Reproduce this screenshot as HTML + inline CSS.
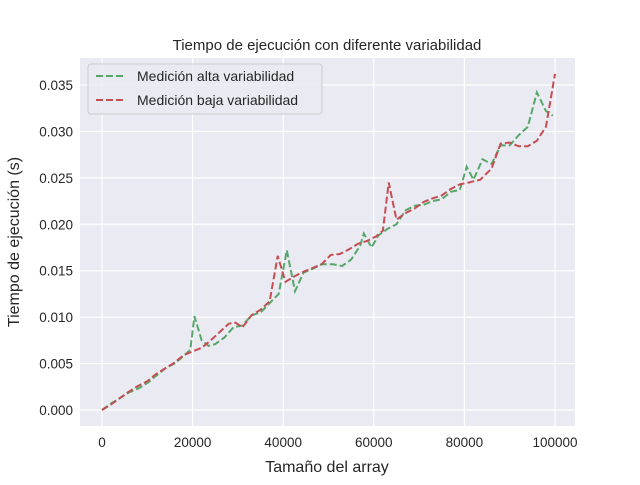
<!DOCTYPE html>
<html><head><meta charset="utf-8"><style>
body{margin:0;background:#fff;font-family:"Liberation Sans","DejaVu Sans",sans-serif;}
svg text{font-family:"Liberation Sans","DejaVu Sans",sans-serif;fill:#262626;}
</style></head><body>
<svg id="chart" width="640" height="480">
<rect x="80" y="58" width="495" height="368" fill="#eaeaf2"/>
<g id="grid"></g><g id="series"></g><g id="ticks"></g>
<text x="327" y="50" text-anchor="middle" font-size="15">Tiempo de ejecución con diferente variabilidad</text>
<text x="327" y="472" text-anchor="middle" font-size="16">Tamaño del array</text>
<text transform="translate(19,242) rotate(-90)" text-anchor="middle" font-size="16">Tiempo de ejecución (s)</text>
<g>
<rect x="88" y="64" width="234" height="50" rx="3" fill="#eaeaf2" fill-opacity="0.8" stroke="#ccc"/>
<g><line x1="96" y1="76" x2="124" y2="76" stroke="#55a868" stroke-width="2" stroke-dasharray="7,3"/><text x="137" y="81" font-size="14">Medición alta variabilidad</text></g>
<g><line x1="96" y1="100" x2="124" y2="100" stroke="#c44e52" stroke-width="2" stroke-dasharray="7,3"/><text x="137" y="105" font-size="14">Medición baja variabilidad</text></g>
</g>
</svg>
<script>
const xTicks=[0,20000,40000,60000,80000,100000];
const yTicks=[0,0.005,0.010,0.015,0.020,0.025,0.030,0.035];
const yTickLabels=["0.000","0.005","0.010","0.015","0.020","0.025","0.030","0.035"];
const altaX=[0,2000,4000,6000,8000,10000,12000,14000,16000,18000,19500,20400,22000,23500,25000,27000,29000,31000,33000,35000,37000,39000,40800,42600,44500,46500,48500,51000,53000,55000,57000,57800,59500,61000,63000,65000,67000,69000,71000,73000,75000,77000,79000,80500,82000,84000,86000,88000,90000,92000,94000,96000,98000,99500];
const altaY=[0,.0007,.0013,.0019,.0023,.0029,.0037,.0045,.005,.0058,.0065,.0101,.0075,.0069,.0071,.0078,.0089,.0091,.0102,.0105,.0115,.0125,.0172,.0128,.0148,.0152,.0157,.0157,.0155,.0162,.0177,.019,.0175,.0188,.0195,.02,.0215,.022,.0221,.0225,.0227,.0235,.0237,.0262,.0248,.027,.0265,.0285,.0285,.0296,.0305,.0342,.0322,.0317];
const bajaX=[0,2000,4000,6000,8000,10000,12000,14000,16000,18000,20000,22000,24000,26000,28000,29500,31000,33000,35000,37000,38800,40500,42500,44500,46500,48500,50500,52500,54500,56500,58500,60500,62000,63300,65000,67000,69000,71000,73000,75000,77000,79000,81000,83500,86000,88000,90000,92000,94000,96000,98000,100000];
const bajaY=[0,.0006,.0013,.002,.0026,.0031,.0039,.0045,.0051,.0059,.0063,.0067,.0075,.0084,.0093,.0094,.0089,.0102,.0108,.0117,.0166,.0138,.0144,.0149,.0153,.0157,.0167,.0168,.0173,.0179,.0182,.0187,.0193,.0245,.0205,.0212,.0217,.0224,.0228,.0231,.0238,.0243,.0245,.0248,.026,.0287,.0288,.0284,.0284,.029,.0305,.0362];
const sx=v=>102+v*(555-102)/100000;
const sy=v=>410-v*(410-85)/0.035;
const NS="http://www.w3.org/2000/svg";
const grid=document.getElementById('grid'),ticks=document.getElementById('ticks'),ser=document.getElementById('series');
function mk(tag,attrs,parent){const e=document.createElementNS(NS,tag);for(const k in attrs)e.setAttribute(k,attrs[k]);parent.appendChild(e);return e;}
xTicks.forEach(t=>{
const l=mk('line',{x1:sx(t),x2:sx(t),y1:58,y2:426,stroke:'#fff','stroke-width':1.2},grid);


const tx=mk('text',{x:sx(t),y:447,'text-anchor':'middle','font-size':13.5},ticks);tx.textContent=t;


});
yTicks.forEach((t,i)=>{
const l=mk('line',{x1:80,x2:575,y1:sy(t),y2:sy(t),stroke:'#fff','stroke-width':1.2},grid);


const tx=mk('text',{x:73,y:sy(t)+5,'text-anchor':'end','font-size':13.5},ticks);tx.textContent=yTickLabels[i];


});
function line(xs,ys,color,name){
const p=mk('polyline',{points:xs.map((x,i)=>sx(x)+','+sy(ys[i])).join(' '),fill:'none',stroke:color,'stroke-width':2,'stroke-dasharray':'7,3'},ser);


}
line(altaX,altaY,'#55a868','series-alta-variabilidad');
line(bajaX,bajaY,'#c44e52','series-baja-variabilidad');
</script>
</body></html>
